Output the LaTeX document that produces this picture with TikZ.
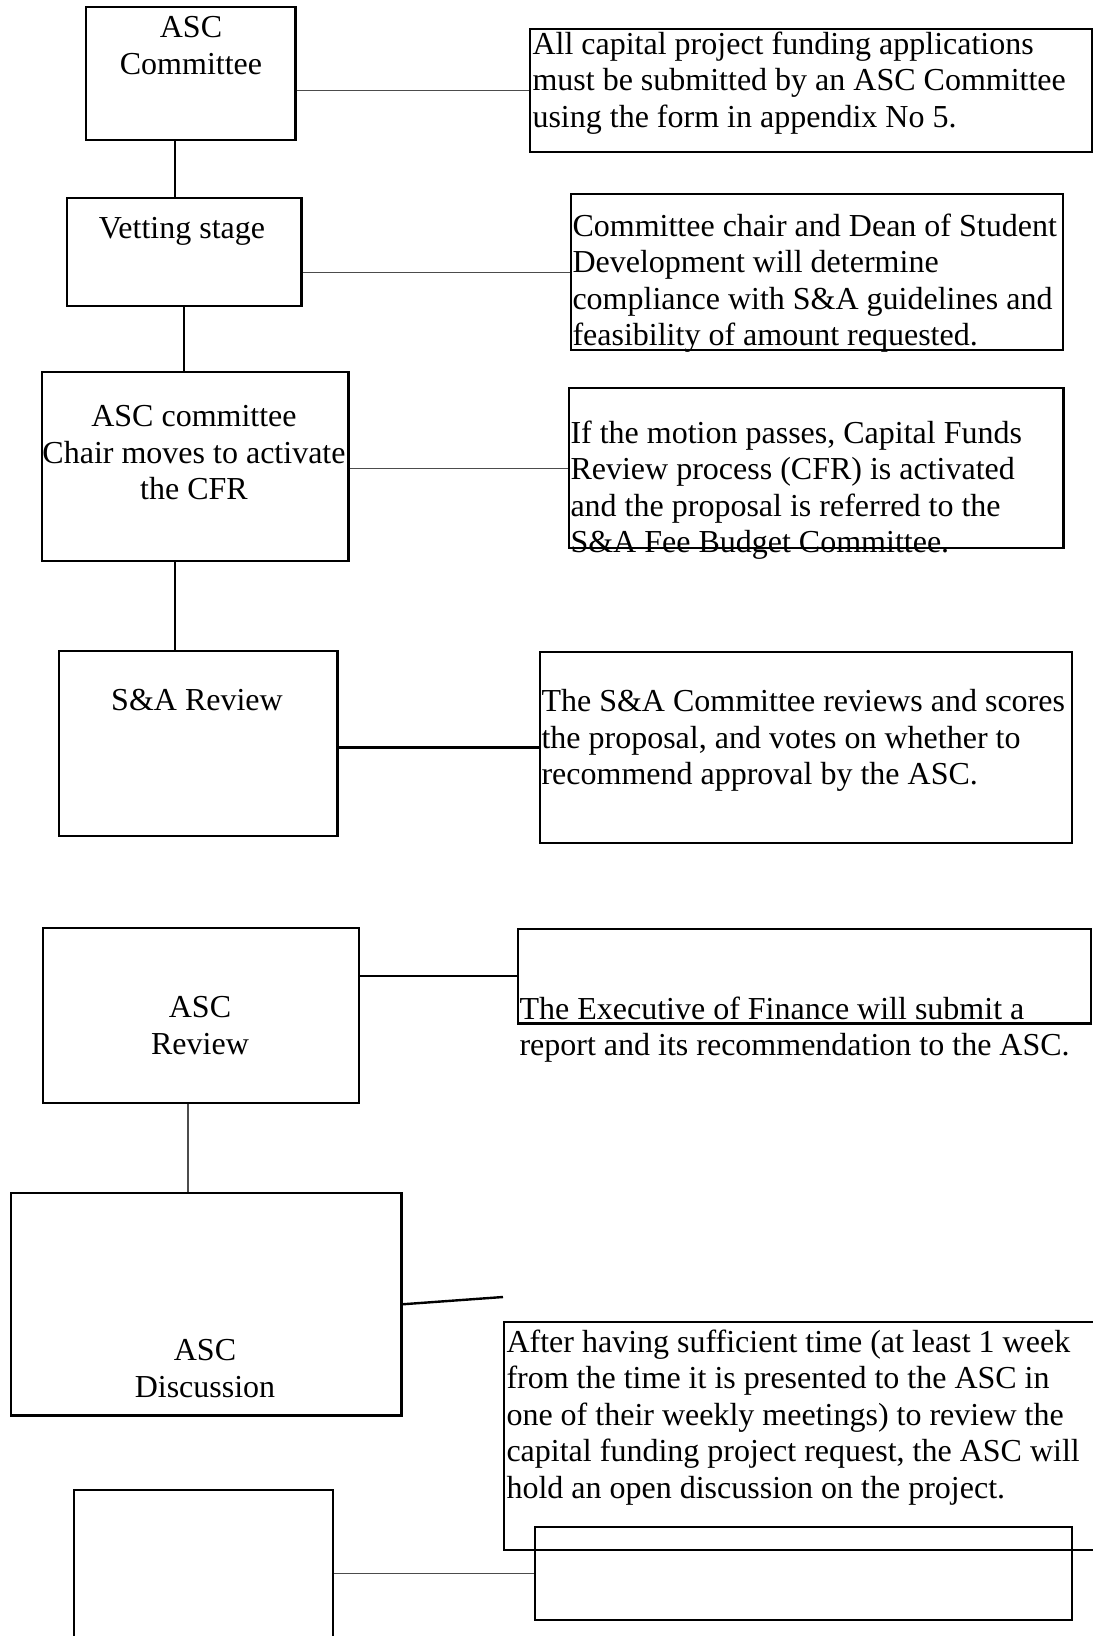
\documentclass[tikz,border=0pt]{standalone}
\usepackage{fontspec}
\setmainfont{Liberation Serif}
\usepackage{tikz}

\begin{document}
\begin{tikzpicture}[x=0.375pt,y=-0.375pt,
  box/.style={draw,line width=0.9pt,inner sep=0pt,anchor=north west},
  txt/.style={inner sep=0pt,font=\fontsize{12}{13.7}\selectfont},
  link/.style={line width=0.9pt},
  faint/.style={draw=black!70,line width=0.45pt}]
  \useasboundingbox (0,0) rectangle (1093,1636);
  \node[box,minimum width=78.6pt,minimum height=49.9pt] (asc) at (84.5,6) {};
  \node[box,minimum width=210.8pt,minimum height=46.1pt] (rasc) at (529,28) {};
  \node[box,minimum width=87.8pt,minimum height=40.5pt] (vet) at (66,197) {};
  \node[box,minimum width=184.5pt,minimum height=58.5pt] (rvet) at (570,193) {};
  \node[box,minimum width=114.8pt,minimum height=70.9pt] (chair) at (41,371) {};
  \node[box,minimum width=185.3pt,minimum height=60pt] (rchair) at (568,387) {};
  \node[box,minimum width=104.3pt,minimum height=69.4pt] (sa) at (58,650) {};
  \node[box,minimum width=199.5pt,minimum height=71.6pt] (rsa) at (539,651) {};
  \node[box,minimum width=118.5pt,minimum height=65.6pt] (rev) at (42,927) {};
  \node[box,minimum width=214.9pt,minimum height=35.3pt] (rrev) at (517,928) {};
  \node[box,minimum width=146.3pt,minimum height=83.3pt] (disc) at (10,1192) {};
  \node[box,minimum width=223.9pt,minimum height=85.5pt] (rdisc) at (503,1321) {};
  \node[box,minimum width=97.1pt,minimum height=60.4pt] (last) at (73,1489) {};
  \node[box,minimum width=201.4pt,minimum height=34.9pt] (rlast) at (534,1526) {};
  \coordinate (discend) at (503,1297);

  \node[txt,align=center,anchor=north] (tasc) at (191,16) {ASC\\Committee};
  \node[txt,align=left,anchor=north west] (trasc) at (532,31)
    {All capital project funding applications\\must be submitted by an ASC Committee\\using the form in appendix No 5.};
  \node[txt,anchor=north] (tvet) at (182,217) {Vetting stage};
  \node[txt,align=left,anchor=north west] (trvet) at (572,213)
    {Committee chair and Dean of Student\\Development will determine\\compliance with S\&A guidelines and\\feasibility of amount requested.};
  \node[txt,align=center,anchor=north] (tchair) at (194,405) {ASC committee\\Chair moves to activate\\the CFR};
  \node[txt,align=left,anchor=north west] (trchair) at (570,420)
    {If the motion passes, Capital Funds\\Review process (CFR) is activated\\and the proposal is referred to the\\S\&A Fee Budget Committee.};
  \node[txt,anchor=north] (tsa) at (197,689) {S\&A Review};
  \node[txt,align=left,anchor=north west] (trsa) at (541,689)
    {The S\&A Committee reviews and scores\\the proposal, and votes on whether to\\recommend approval by the ASC.};
  \node[txt,align=center,anchor=north] (trev) at (200,996) {ASC\\Review};
  \node[txt,align=left,anchor=north west] (trrev) at (519,996)
    {The Executive of Finance will submit a\\report and its recommendation to the ASC.};
  \node[txt,align=center,anchor=north] (tdisc) at (205,1339) {ASC\\Discussion};
  \node[txt,align=left,anchor=north west] (trdisc) at (506,1329)
    {After having sufficient time (at least 1 week\\from the time it is presented to the ASC in\\one of their weekly meetings) to review the\\capital funding project request, the ASC will\\hold an open discussion on the project.};

  \draw[link] (asc.south -| 175,0) -- (vet.north -| 175,0);
  \draw[link] (vet.south -| 184,0) -- (chair.north -| 184,0);
  \draw[link] (chair.south -| 175,0) -- (sa.north -| 175,0);
  \draw[faint] (rev.south -| 188,0) -- (disc.north -| 188,0);

  \draw[faint] (rasc.west -| asc.east) -- (rasc.west);
  \draw[faint] (rvet.west -| vet.east) -- (rvet.west);
  \draw[faint] (rchair.west -| chair.east) -- (rchair.west);
  \draw[link] (rsa.west -| sa.east) -- (rsa.west);
  \draw[link] (rrev.west -| rev.east) -- (rrev.west);
  \draw[link] (disc.east) -- (discend);
  \draw[faint] (rlast.west -| last.east) -- (rlast.west);
\end{tikzpicture}
\end{document}
